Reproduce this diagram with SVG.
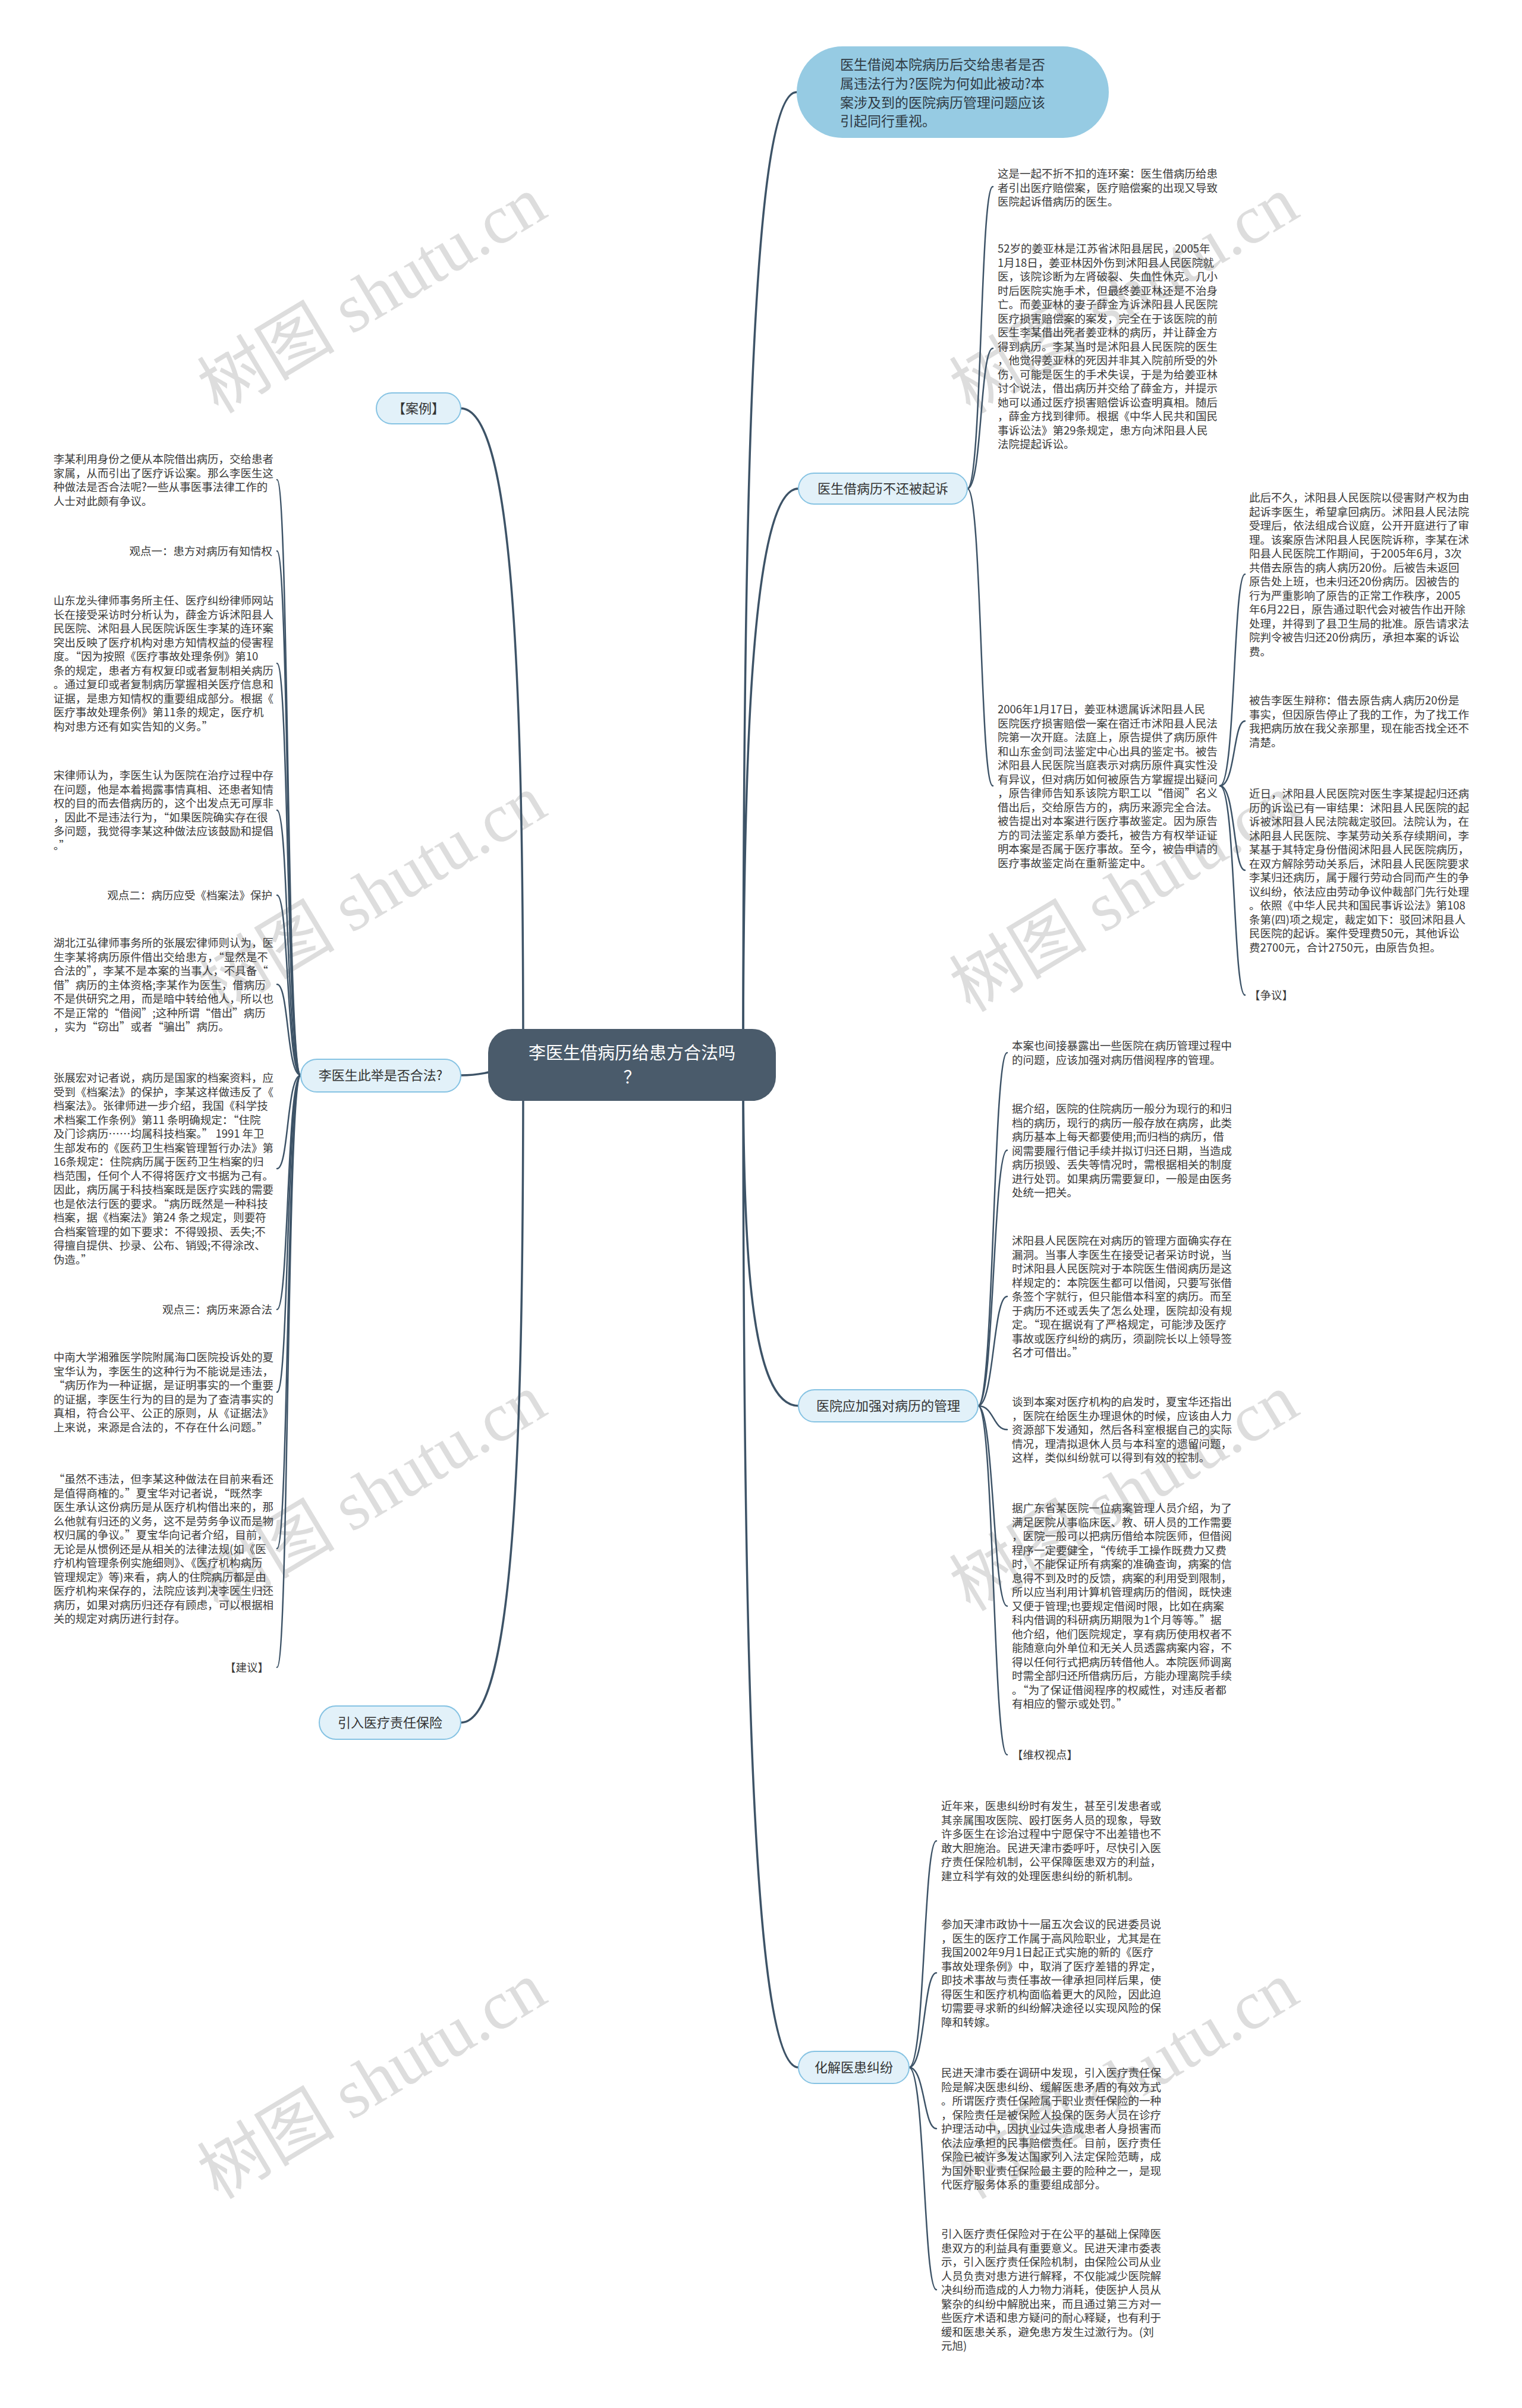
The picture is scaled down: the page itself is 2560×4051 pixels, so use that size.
<svg xmlns="http://www.w3.org/2000/svg" width="2560" height="4051" viewBox="0 0 2560 4051">
<style>
.bg{fill:#ffffff}
.t{font-family:"Noto Sans CJK SC","Noto Sans",sans-serif;font-size:18.5px;fill:#3a3a3a}
.r{text-anchor:end}
.wm{font-family:"Liberation Serif","Noto Sans CJK SC",serif;font-size:116px;fill:#d2d2d2;opacity:0.75}
.nb rect{fill:#e2f1f9;stroke:#86c3e3;stroke-width:2}
.nt{font-family:"Noto Sans CJK SC","Noto Sans",sans-serif;font-size:22px;fill:#333;text-anchor:middle}
.c{fill:none;stroke:#3d5367;stroke-width:3.5;stroke-linecap:round}
.cs{fill:none;stroke:#3d5367;stroke-width:2.5;stroke-linecap:round}
</style>
<rect class="bg" x="0" y="0" width="2560" height="4051"/>
<g id="watermarks">
<text class="wm" transform="translate(646,530) rotate(-31)" text-anchor="middle">树图 shutu.cn</text>
<text class="wm" transform="translate(1911,530) rotate(-31)" text-anchor="middle">树图 shutu.cn</text>
<text class="wm" transform="translate(646,1537) rotate(-31)" text-anchor="middle">树图 shutu.cn</text>
<text class="wm" transform="translate(1911,1537) rotate(-31)" text-anchor="middle">树图 shutu.cn</text>
<text class="wm" transform="translate(646,2545) rotate(-31)" text-anchor="middle">树图 shutu.cn</text>
<text class="wm" transform="translate(1911,2545) rotate(-31)" text-anchor="middle">树图 shutu.cn</text>
<text class="wm" transform="translate(646,3534) rotate(-31)" text-anchor="middle">树图 shutu.cn</text>
<text class="wm" transform="translate(1911,3534) rotate(-31)" text-anchor="middle">树图 shutu.cn</text>
</g>
<g id="connectors">
<path class="c" d="M1250,1791 C1250,900 1262,155 1340,155"/>
<path class="c" d="M1250,1791 C1250,1300 1262,822 1343,822"/>
<path class="c" d="M1250,1791 C1250,2100 1262,2365 1343,2365"/>
<path class="c" d="M1250,1791 C1250,2700 1262,3478 1343,3478"/>
<path class="c" d="M880,1791 C880,1200 868,687 775,687"/>
<path class="c" d="M880,1791 C850,1791 830,1809 775,1809"/>
<path class="c" d="M880,1791 C880,2400 868,2898 775,2898"/>
<path class="cs" d="M1627,822 C1652,822 1648,314 1670,314"/>
<path class="cs" d="M1627,822 C1652,822 1648,586 1670,586"/>
<path class="cs" d="M1627,822 C1652,822 1648,1322 1670,1322"/>
<path class="cs" d="M2052,1322 C2078,1322 2074,966 2094,966"/>
<path class="cs" d="M2052,1322 C2078,1322 2074,1213 2094,1213"/>
<path class="cs" d="M2052,1322 C2078,1322 2074,1464 2094,1464"/>
<path class="cs" d="M2052,1322 C2078,1322 2074,1674 2094,1674"/>
<path class="cs" d="M1645,2365 C1672,2365 1670,1771 1694,1771"/>
<path class="cs" d="M1645,2365 C1672,2365 1670,1935 1694,1935"/>
<path class="cs" d="M1645,2365 C1672,2365 1670,2181 1694,2181"/>
<path class="cs" d="M1645,2365 C1672,2365 1670,2405 1694,2405"/>
<path class="cs" d="M1645,2365 C1672,2365 1670,2702 1694,2702"/>
<path class="cs" d="M1645,2365 C1672,2365 1670,2952 1694,2952"/>
<path class="cs" d="M1529,3478 C1556,3478 1553,3097 1575,3097"/>
<path class="cs" d="M1529,3478 C1556,3478 1553,3319 1575,3319"/>
<path class="cs" d="M1529,3478 C1556,3478 1553,3581 1575,3581"/>
<path class="cs" d="M1529,3478 C1556,3478 1553,3852 1575,3852"/>
<path class="cs" d="M506,1809 C482,1809 486,807 466,807"/>
<path class="cs" d="M506,1809 C482,1809 486,927 466,927"/>
<path class="cs" d="M506,1809 C482,1809 486,1116 466,1116"/>
<path class="cs" d="M506,1809 C482,1809 486,1363 466,1363"/>
<path class="cs" d="M506,1809 C482,1809 486,1506 466,1506"/>
<path class="cs" d="M506,1809 C482,1809 486,1656 466,1656"/>
<path class="cs" d="M506,1809 C482,1809 486,1966 466,1966"/>
<path class="cs" d="M506,1809 C482,1809 486,2203 466,2203"/>
<path class="cs" d="M506,1809 C482,1809 486,2342 466,2342"/>
<path class="cs" d="M506,1809 C482,1809 486,2605 466,2605"/>
<path class="cs" d="M506,1809 C482,1809 486,2805 466,2805"/>
</g>
<g id="center">
<rect x="821" y="1731" width="484" height="121" rx="40" fill="#4a5b6b"/>
<text x="1063" y="1782" font-family="Noto Sans CJK SC,sans-serif" font-size="29" fill="#ffffff" text-anchor="middle">李医生借病历给患方合法吗</text>
<text x="1063" y="1823" font-family="Noto Sans CJK SC,sans-serif" font-size="29" fill="#ffffff" text-anchor="middle">？</text>
</g>
<g id="topic-question">
<rect x="1340" y="78" width="525" height="154" rx="77" fill="#96cbe3"/>
<text font-family="Noto Sans CJK SC,sans-serif" font-size="23" fill="#2f3a44"><tspan x="1413" y="117">医生借阅本院病历后交给患者是否</tspan><tspan x="1413" y="149">属违法行为?医院为何如此被动?本</tspan><tspan x="1413" y="181">案涉及到的医院病历管理问题应该</tspan><tspan x="1413" y="212">引起同行重视。</tspan></text>
</g>
<g id="node-case" class="nb"><rect x="633" y="661" width="142" height="52" rx="26"/><text class="nt" x="704" y="695">【案例】</text></g>
<g id="node-legal" class="nb"><rect x="506" y="1782" width="269" height="55" rx="27"/><text class="nt" x="640" y="1817">李医生此举是否合法?</text></g>
<g id="node-insurance" class="nb"><rect x="537" y="2870" width="238" height="56" rx="28"/><text class="nt" x="656" y="2906">引入医疗责任保险</text></g>
<g id="node-sued" class="nb"><rect x="1343" y="796" width="284" height="52" rx="26"/><text class="nt" x="1485" y="830">医生借病历不还被起诉</text></g>
<g id="node-manage" class="nb"><rect x="1343" y="2338" width="302" height="54" rx="27"/><text class="nt" x="1494" y="2373">医院应加强对病历的管理</text></g>
<g id="node-resolve" class="nb"><rect x="1343" y="3451" width="186" height="54" rx="27"/><text class="nt" x="1436" y="3486">化解医患纠纷</text></g>

<g id="b1a"><text class="t"><tspan x="1678" y="299">这是一起不折不扣的连环案：医生借病历给患</tspan><tspan x="1678" dy="23.5">者引出医疗赔偿案，医疗赔偿案的出现又导致</tspan><tspan x="1678" dy="23.5">医院起诉借病历的医生。</tspan></text></g>
<g id="b1b"><text class="t"><tspan x="1678" y="425">52岁的姜亚林是江苏省沭阳县居民，2005年</tspan><tspan x="1678" dy="23.5">1月18日，姜亚林因外伤到沭阳县人民医院就</tspan><tspan x="1678" dy="23.5">医，该院诊断为左肾破裂、失血性休克。几小</tspan><tspan x="1678" dy="23.5">时后医院实施手术，但最终姜亚林还是不治身</tspan><tspan x="1678" dy="23.5">亡。而姜亚林的妻子薛金方诉沭阳县人民医院</tspan><tspan x="1678" dy="23.5">医疗损害赔偿案的案发，完全在于该医院的前</tspan><tspan x="1678" dy="23.5">医生李某借出死者姜亚林的病历，并让薛金方</tspan><tspan x="1678" dy="23.5">得到病历。李某当时是沭阳县人民医院的医生</tspan><tspan x="1678" dy="23.5">，他觉得姜亚林的死因并非其入院前所受的外</tspan><tspan x="1678" dy="23.5">伤，可能是医生的手术失误，于是为给姜亚林</tspan><tspan x="1678" dy="23.5">讨个说法，借出病历并交给了薛金方，并提示</tspan><tspan x="1678" dy="23.5">她可以通过医疗损害赔偿诉讼查明真相。随后</tspan><tspan x="1678" dy="23.5">，薛金方找到律师。根据《中华人民共和国民</tspan><tspan x="1678" dy="23.5">事诉讼法》第29条规定，患方向沭阳县人民</tspan><tspan x="1678" dy="23.5">法院提起诉讼。</tspan></text></g>
<g id="b1c"><text class="t"><tspan x="1678" y="1200">2006年1月17日，姜亚林遗属诉沭阳县人民</tspan><tspan x="1678" dy="23.5">医院医疗损害赔偿一案在宿迁市沭阳县人民法</tspan><tspan x="1678" dy="23.5">院第一次开庭。法庭上，原告提供了病历原件</tspan><tspan x="1678" dy="23.5">和山东金剑司法鉴定中心出具的鉴定书。被告</tspan><tspan x="1678" dy="23.5">沭阳县人民医院当庭表示对病历原件真实性没</tspan><tspan x="1678" dy="23.5">有异议，但对病历如何被原告方掌握提出疑问</tspan><tspan x="1678" dy="23.5">，原告律师告知系该院方职工以“借阅”名义</tspan><tspan x="1678" dy="23.5">借出后，交给原告方的，病历来源完全合法。</tspan><tspan x="1678" dy="23.5">被告提出对本案进行医疗事故鉴定。因为原告</tspan><tspan x="1678" dy="23.5">方的司法鉴定系单方委托，被告方有权举证证</tspan><tspan x="1678" dy="23.5">明本案是否属于医疗事故。至今，被告申请的</tspan><tspan x="1678" dy="23.5">医疗事故鉴定尚在重新鉴定中。</tspan></text></g>
<g id="c1"><text class="t"><tspan x="2101" y="844">此后不久，沭阳县人民医院以侵害财产权为由</tspan><tspan x="2101" dy="23.5">起诉李医生，希望拿回病历。沭阳县人民法院</tspan><tspan x="2101" dy="23.5">受理后，依法组成合议庭，公开开庭进行了审</tspan><tspan x="2101" dy="23.5">理。该案原告沭阳县人民医院诉称，李某在沭</tspan><tspan x="2101" dy="23.5">阳县人民医院工作期间，于2005年6月，3次</tspan><tspan x="2101" dy="23.5">共借去原告的病人病历20份。后被告未返回</tspan><tspan x="2101" dy="23.5">原告处上班，也未归还20份病历。因被告的</tspan><tspan x="2101" dy="23.5">行为严重影响了原告的正常工作秩序，2005</tspan><tspan x="2101" dy="23.5">年6月22日，原告通过职代会对被告作出开除</tspan><tspan x="2101" dy="23.5">处理，并得到了县卫生局的批准。原告请求法</tspan><tspan x="2101" dy="23.5">院判令被告归还20份病历，承担本案的诉讼</tspan><tspan x="2101" dy="23.5">费。</tspan></text></g>
<g id="c2"><text class="t"><tspan x="2101" y="1185">被告李医生辩称：借去原告病人病历20份是</tspan><tspan x="2101" dy="23.5">事实，但因原告停止了我的工作，为了找工作</tspan><tspan x="2101" dy="23.5">我把病历放在我父亲那里，现在能否找全还不</tspan><tspan x="2101" dy="23.5">清楚。</tspan></text></g>
<g id="c3"><text class="t"><tspan x="2101" y="1342">近日，沭阳县人民医院对医生李某提起归还病</tspan><tspan x="2101" dy="23.5">历的诉讼已有一审结果：沭阳县人民医院的起</tspan><tspan x="2101" dy="23.5">诉被沭阳县人民法院裁定驳回。法院认为，在</tspan><tspan x="2101" dy="23.5">沭阳县人民医院、李某劳动关系存续期间，李</tspan><tspan x="2101" dy="23.5">某基于其特定身份借阅沭阳县人民医院病历，</tspan><tspan x="2101" dy="23.5">在双方解除劳动关系后，沭阳县人民医院要求</tspan><tspan x="2101" dy="23.5">李某归还病历，属于履行劳动合同而产生的争</tspan><tspan x="2101" dy="23.5">议纠纷，依法应由劳动争议仲裁部门先行处理</tspan><tspan x="2101" dy="23.5">。依照《中华人民共和国民事诉讼法》第108</tspan><tspan x="2101" dy="23.5">条第(四)项之规定，裁定如下：驳回沭阳县人</tspan><tspan x="2101" dy="23.5">民医院的起诉。案件受理费50元，其他诉讼</tspan><tspan x="2101" dy="23.5">费2700元，合计2750元，由原告负担。</tspan></text></g>
<g id="c4"><text class="t" x="2101" y="1681">【争议】</text></g>

<g id="d1"><text class="t"><tspan x="1702" y="1766">本案也间接暴露出一些医院在病历管理过程中</tspan><tspan x="1702" dy="23.5">的问题，应该加强对病历借阅程序的管理。</tspan></text></g>
<g id="d2"><text class="t"><tspan x="1702" y="1872">据介绍，医院的住院病历一般分为现行的和归</tspan><tspan x="1702" dy="23.5">档的病历，现行的病历一般存放在病房，此类</tspan><tspan x="1702" dy="23.5">病历基本上每天都要使用;而归档的病历，借</tspan><tspan x="1702" dy="23.5">阅需要履行借记手续并拟订归还日期，当造成</tspan><tspan x="1702" dy="23.5">病历损毁、丢失等情况时，需根据相关的制度</tspan><tspan x="1702" dy="23.5">进行处罚。如果病历需要复印，一般是由医务</tspan><tspan x="1702" dy="23.5">处统一把关。</tspan></text></g>
<g id="d3"><text class="t"><tspan x="1702" y="2094">沭阳县人民医院在对病历的管理方面确实存在</tspan><tspan x="1702" dy="23.5">漏洞。当事人李医生在接受记者采访时说，当</tspan><tspan x="1702" dy="23.5">时沭阳县人民医院对于本院医生借阅病历是这</tspan><tspan x="1702" dy="23.5">样规定的：本院医生都可以借阅，只要写张借</tspan><tspan x="1702" dy="23.5">条签个字就行，但只能借本科室的病历。而至</tspan><tspan x="1702" dy="23.5">于病历不还或丢失了怎么处理，医院却没有规</tspan><tspan x="1702" dy="23.5">定。“现在据说有了严格规定，可能涉及医疗</tspan><tspan x="1702" dy="23.5">事故或医疗纠纷的病历，须副院长以上领导签</tspan><tspan x="1702" dy="23.5">名才可借出。”</tspan></text></g>
<g id="d4"><text class="t"><tspan x="1702" y="2365">谈到本案对医疗机构的启发时，夏宝华还指出</tspan><tspan x="1702" dy="23.5">，医院在给医生办理退休的时候，应该由人力</tspan><tspan x="1702" dy="23.5">资源部下发通知，然后各科室根据自己的实际</tspan><tspan x="1702" dy="23.5">情况，理清拟退休人员与本科室的遗留问题，</tspan><tspan x="1702" dy="23.5">这样，类似纠纷就可以得到有效的控制。</tspan></text></g>
<g id="d5"><text class="t"><tspan x="1702" y="2544">据广东省某医院一位病案管理人员介绍，为了</tspan><tspan x="1702" dy="23.5">满足医院从事临床医、教、研人员的工作需要</tspan><tspan x="1702" dy="23.5">，医院一般可以把病历借给本院医师，但借阅</tspan><tspan x="1702" dy="23.5">程序一定要健全，“传统手工操作既费力又费</tspan><tspan x="1702" dy="23.5">时，不能保证所有病案的准确查询，病案的信</tspan><tspan x="1702" dy="23.5">息得不到及时的反馈，病案的利用受到限制，</tspan><tspan x="1702" dy="23.5">所以应当利用计算机管理病历的借阅，既快速</tspan><tspan x="1702" dy="23.5">又便于管理;也要规定借阅时限，比如在病案</tspan><tspan x="1702" dy="23.5">科内借调的科研病历期限为1个月等等。”据</tspan><tspan x="1702" dy="23.5">他介绍，他们医院规定，享有病历使用权者不</tspan><tspan x="1702" dy="23.5">能随意向外单位和无关人员透露病案内容，不</tspan><tspan x="1702" dy="23.5">得以任何行式把病历转借他人。本院医师调离</tspan><tspan x="1702" dy="23.5">时需全部归还所借病历后，方能办理离院手续</tspan><tspan x="1702" dy="23.5">。“为了保证借阅程序的权威性，对违反者都</tspan><tspan x="1702" dy="23.5">有相应的警示或处罚。”</tspan></text></g>
<g id="d6"><text class="t" x="1702" y="2959">【维权视点】</text></g>

<g id="e1"><text class="t"><tspan x="1583" y="3045">近年来，医患纠纷时有发生，甚至引发患者或</tspan><tspan x="1583" dy="23.5">其亲属围攻医院、殴打医务人员的现象，导致</tspan><tspan x="1583" dy="23.5">许多医生在诊治过程中宁愿保守不出差错也不</tspan><tspan x="1583" dy="23.5">敢大胆施治。民进天津市委呼吁，尽快引入医</tspan><tspan x="1583" dy="23.5">疗责任保险机制，公平保障医患双方的利益，</tspan><tspan x="1583" dy="23.5">建立科学有效的处理医患纠纷的新机制。</tspan></text></g>
<g id="e2"><text class="t"><tspan x="1583" y="3244">参加天津市政协十一届五次会议的民进委员说</tspan><tspan x="1583" dy="23.5">，医生的医疗工作属于高风险职业，尤其是在</tspan><tspan x="1583" dy="23.5">我国2002年9月1日起正式实施的新的《医疗</tspan><tspan x="1583" dy="23.5">事故处理条例》中，取消了医疗差错的界定，</tspan><tspan x="1583" dy="23.5">即技术事故与责任事故一律承担同样后果，使</tspan><tspan x="1583" dy="23.5">得医生和医疗机构面临着更大的风险，因此迫</tspan><tspan x="1583" dy="23.5">切需要寻求新的纠纷解决途径以实现风险的保</tspan><tspan x="1583" dy="23.5">障和转嫁。</tspan></text></g>
<g id="e3"><text class="t"><tspan x="1583" y="3494">民进天津市委在调研中发现，引入医疗责任保</tspan><tspan x="1583" dy="23.5">险是解决医患纠纷、缓解医患矛盾的有效方式</tspan><tspan x="1583" dy="23.5">。所谓医疗责任保险属于职业责任保险的一种</tspan><tspan x="1583" dy="23.5">，保险责任是被保险人投保的医务人员在诊疗</tspan><tspan x="1583" dy="23.5">护理活动中，因执业过失造成患者人身损害而</tspan><tspan x="1583" dy="23.5">依法应承担的民事赔偿责任。目前，医疗责任</tspan><tspan x="1583" dy="23.5">保险已被许多发达国家列入法定保险范畴，成</tspan><tspan x="1583" dy="23.5">为国外职业责任保险最主要的险种之一，是现</tspan><tspan x="1583" dy="23.5">代医疗服务体系的重要组成部分。</tspan></text></g>
<g id="e4"><text class="t"><tspan x="1583" y="3765">引入医疗责任保险对于在公平的基础上保障医</tspan><tspan x="1583" dy="23.5">患双方的利益具有重要意义。民进天津市委表</tspan><tspan x="1583" dy="23.5">示，引入医疗责任保险机制，由保险公司从业</tspan><tspan x="1583" dy="23.5">人员负责对患方进行解释，不仅能减少医院解</tspan><tspan x="1583" dy="23.5">决纠纷而造成的人力物力消耗，使医护人员从</tspan><tspan x="1583" dy="23.5">繁杂的纠纷中解脱出来，而且通过第三方对一</tspan><tspan x="1583" dy="23.5">些医疗术语和患方疑问的耐心释疑，也有利于</tspan><tspan x="1583" dy="23.5">缓和医患关系，避免患方发生过激行为。(刘</tspan><tspan x="1583" dy="23.5">元旭)</tspan></text></g>

<g id="l1"><text class="t"><tspan x="90" y="779">李某利用身份之便从本院借出病历，交给患者</tspan><tspan x="90" dy="23.5">家属，从而引出了医疗诉讼案。那么李医生这</tspan><tspan x="90" dy="23.5">种做法是否合法呢?一些从事医事法律工作的</tspan><tspan x="90" dy="23.5">人士对此颇有争议。</tspan></text></g>
<g id="l2"><text class="t r" x="458" y="934">观点一：患方对病历有知情权</text></g>
<g id="l3"><text class="t"><tspan x="90" y="1017">山东龙头律师事务所主任、医疗纠纷律师网站</tspan><tspan x="90" dy="23.5">长在接受采访时分析认为，薛金方诉沭阳县人</tspan><tspan x="90" dy="23.5">民医院、沭阳县人民医院诉医生李某的连环案</tspan><tspan x="90" dy="23.5">突出反映了医疗机构对患方知情权益的侵害程</tspan><tspan x="90" dy="23.5">度。“因为按照《医疗事故处理条例》第10</tspan><tspan x="90" dy="23.5">条的规定，患者方有权复印或者复制相关病历</tspan><tspan x="90" dy="23.5">。通过复印或者复制病历掌握相关医疗信息和</tspan><tspan x="90" dy="23.5">证据，是患方知情权的重要组成部分。根据《</tspan><tspan x="90" dy="23.5">医疗事故处理条例》第11条的规定，医疗机</tspan><tspan x="90" dy="23.5">构对患方还有如实告知的义务。”</tspan></text></g>
<g id="l4"><text class="t"><tspan x="90" y="1311">宋律师认为，李医生认为医院在治疗过程中存</tspan><tspan x="90" dy="23.5">在问题，他是本着揭露事情真相、还患者知情</tspan><tspan x="90" dy="23.5">权的目的而去借病历的，这个出发点无可厚非</tspan><tspan x="90" dy="23.5">，因此不是违法行为，“如果医院确实存在很</tspan><tspan x="90" dy="23.5">多问题，我觉得李某这种做法应该鼓励和提倡</tspan><tspan x="90" dy="23.5">。”</tspan></text></g>
<g id="l5"><text class="t r" x="458" y="1513">观点二：病历应受《档案法》保护</text></g>
<g id="l6"><text class="t"><tspan x="90" y="1593">湖北江弘律师事务所的张展宏律师则认为，医</tspan><tspan x="90" dy="23.5">生李某将病历原件借出交给患方，“显然是不</tspan><tspan x="90" dy="23.5">合法的”，李某不是本案的当事人，不具备“</tspan><tspan x="90" dy="23.5">借”病历的主体资格;李某作为医生，借病历</tspan><tspan x="90" dy="23.5">不是供研究之用，而是暗中转给他人，所以也</tspan><tspan x="90" dy="23.5">不是正常的“借阅”;这种所谓“借出”病历</tspan><tspan x="90" dy="23.5">，实为“窃出”或者“骗出”病历。</tspan></text></g>
<g id="l7"><text class="t"><tspan x="90" y="1820">张展宏对记者说，病历是国家的档案资料，应</tspan><tspan x="90" dy="23.5">受到《档案法》的保护，李某这样做违反了《</tspan><tspan x="90" dy="23.5">档案法》。张律师进一步介绍，我国《科学技</tspan><tspan x="90" dy="23.5">术档案工作条例》第11 条明确规定：“住院</tspan><tspan x="90" dy="23.5">及门诊病历……均属科技档案。” 1991 年卫</tspan><tspan x="90" dy="23.5">生部发布的《医药卫生档案管理暂行办法》第</tspan><tspan x="90" dy="23.5">16条规定：住院病历属于医药卫生档案的归</tspan><tspan x="90" dy="23.5">档范围，任何个人不得将医疗文书据为己有。</tspan><tspan x="90" dy="23.5">因此，病历属于科技档案既是医疗实践的需要</tspan><tspan x="90" dy="23.5">也是依法行医的要求。“病历既然是一种科技</tspan><tspan x="90" dy="23.5">档案，据《档案法》第24 条之规定，则要符</tspan><tspan x="90" dy="23.5">合档案管理的如下要求：不得毁损、丢失;不</tspan><tspan x="90" dy="23.5">得擅自提供、抄录、公布、销毁;不得涂改、</tspan><tspan x="90" dy="23.5">伪造。”</tspan></text></g>
<g id="l8"><text class="t r" x="458" y="2210">观点三：病历来源合法</text></g>
<g id="l9"><text class="t"><tspan x="90" y="2290">中南大学湘雅医学院附属海口医院投诉处的夏</tspan><tspan x="90" dy="23.5">宝华认为，李医生的这种行为不能说是违法，</tspan><tspan x="90" dy="23.5">“病历作为一种证据，是证明事实的一个重要</tspan><tspan x="90" dy="23.5">的证据，李医生行为的目的是为了查清事实的</tspan><tspan x="90" dy="23.5">真相，符合公平、公正的原则，从《证据法》</tspan><tspan x="90" dy="23.5">上来说，来源是合法的，不存在什么问题。”</tspan></text></g>
<g id="l10"><text class="t"><tspan x="90" y="2495">“虽然不违法，但李某这种做法在目前来看还</tspan><tspan x="90" dy="23.5">是值得商榷的。”夏宝华对记者说，“既然李</tspan><tspan x="90" dy="23.5">医生承认这份病历是从医疗机构借出来的，那</tspan><tspan x="90" dy="23.5">么他就有归还的义务，这不是劳务争议而是物</tspan><tspan x="90" dy="23.5">权归属的争议。”夏宝华向记者介绍，目前，</tspan><tspan x="90" dy="23.5">无论是从惯例还是从相关的法律法规(如《医</tspan><tspan x="90" dy="23.5">疗机构管理条例实施细则》、《医疗机构病历</tspan><tspan x="90" dy="23.5">管理规定》等)来看，病人的住院病历都是由</tspan><tspan x="90" dy="23.5">医疗机构来保存的，法院应该判决李医生归还</tspan><tspan x="90" dy="23.5">病历，如果对病历归还存有顾虑，可以根据相</tspan><tspan x="90" dy="23.5">关的规定对病历进行封存。</tspan></text></g>
<g id="l11"><text class="t r" x="452" y="2812">【建议】</text></g>
</svg>
